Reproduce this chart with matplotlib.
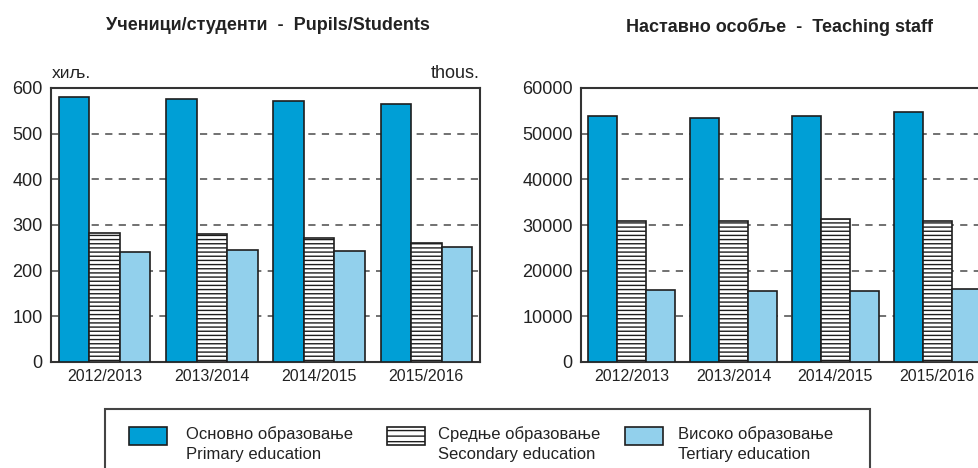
import numpy as np
import matplotlib.pyplot as plt
from matplotlib.patches import Rectangle

plt.rcParams['font.family'] = ['Liberation Sans', 'DejaVu Sans']
plt.rcParams['hatch.linewidth'] = 1.0

years = ['2012/2013', '2013/2014', '2014/2015', '2015/2016']

# ucenici/studenti, hiljade
pupils_primary = [581, 575, 572, 566]
pupils_secondary = [283, 280, 271, 261]
pupils_tertiary = [241, 245, 243, 252]

# nastavno osoblje
staff_primary = [53900, 53450, 53800, 54700]
staff_secondary = [30950, 30950, 31300, 30800]
staff_tertiary = [15750, 15600, 15550, 15900]

labels = ['Основно образовање\nPrimary education',
          'Средње образовање\nSecondary education',
          'Високо образовање\nTertiary education']

c_prim = '#009fd6'
c_tert = '#92d0ec'
edge = '#1e1e1e'

W, H = 979, 468
fig = plt.figure(figsize=(W / 100, H / 100), dpi=100)


def draw(ax, prim, sec, tert, ymax, step):
    x = np.arange(len(years))
    w = 0.285
    ax.bar(x - w, prim, w, color=c_prim, edgecolor=edge, lw=1.2, zorder=3)
    ax.bar(x, sec, w, color='white', edgecolor=edge, hatch='----', lw=1.2, zorder=3)
    ax.bar(x + w, tert, w, color=c_tert, edgecolor=edge, lw=1.2, zorder=3)
    ax.set_xlim(-0.5, len(years) - 0.5)
    ax.set_ylim(0, ymax)
    ax.set_yticks(np.arange(0, ymax + 1, step))
    for v in np.arange(step, ymax, step):
        ax.axhline(v, color='#666666', lw=1.3, dashes=(4, 3.5), zorder=1)
    ax.set_xticks(x)
    ax.set_xticklabels(years, fontsize=11.5)
    ax.tick_params(axis='y', labelsize=13, length=0, pad=6, colors='#222222')
    ax.tick_params(axis='x', length=0, pad=5, colors='#222222')
    for s in ax.spines.values():
        s.set_linewidth(1.5)
        s.set_color('#333333')


ax1 = fig.add_axes([51 / W, (H - 362) / H, 429 / W, 274 / H])
draw(ax1, pupils_primary, pupils_secondary, pupils_tertiary, 600, 100)

ax2 = fig.add_axes([581 / W, (H - 362) / H, 407 / W, 274 / H])
draw(ax2, staff_primary, staff_secondary, staff_tertiary, 60000, 10000)

fig.text(268 / W, 1 - 25 / H, 'Ученици/студенти  -  Pupils/Students',
         ha='center', va='center', fontsize=13, fontweight='bold', color='#222222')
fig.text(780 / W, 1 - 27 / H, 'Наставно особље  -  Teaching staff',
         ha='center', va='center', fontsize=13, fontweight='bold', color='#222222')
fig.text(52 / W, 1 - 73 / H, 'хиљ.', ha='left', va='center', fontsize=12.5, color='#222222')
fig.text(480 / W, 1 - 73 / H, 'thous.', ha='right', va='center', fontsize=13, color='#222222')

# legend box
fig.patches.append(Rectangle((105 / W, -0.05), (870 - 105) / W, 0.05 + (H - 409) / H,
                             transform=fig.transFigure, fill=False,
                             edgecolor='#444444', lw=1.5))
handle_x = [129, 387, 625]
text_x = [186, 438, 678]
styles = [dict(facecolor=c_prim), dict(facecolor='white', hatch='---'), dict(facecolor=c_tert)]
for hx, tx, st, lab in zip(handle_x, text_x, styles, labels):
    fig.patches.append(Rectangle((hx / W, 1 - 445 / H), 38 / W, 18 / H,
                                 transform=fig.transFigure, edgecolor=edge, lw=1.2, **st))
    fig.text(tx / W, 1 - 444 / H, lab, ha='left', va='center', fontsize=12,
             linespacing=1.45, color='#222222')

fig.savefig('out.png', dpi=100)
